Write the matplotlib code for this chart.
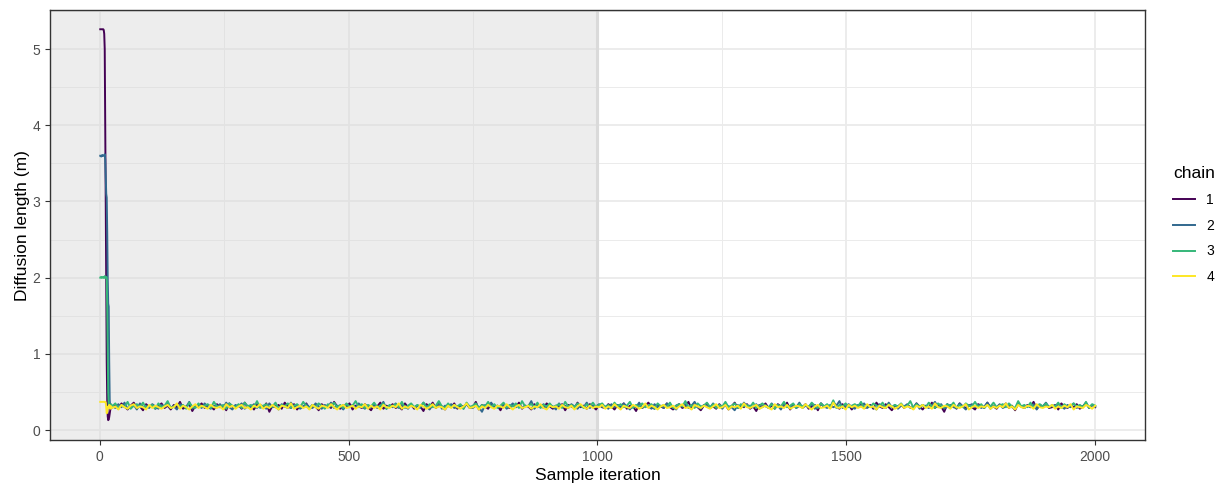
# ==========================================
# Trace plot: diffusion length, 4 MCMC chains
# ==========================================

import numpy as np
import matplotlib
matplotlib.use("Agg")
import matplotlib.pyplot as plt

plt.rcParams["font.family"] = ["Liberation Sans", "DejaVu Sans"]

# ==========================================
# Data
# ==========================================

chains = ["1", "2", "3", "4"]
colors = ["#440154", "#31688E", "#35B779", "#FDE725"]

# burn-in, iterations 1..24
head_1 = [5.26, 5.26, 5.26, 5.26, 5.26, 5.26, 5.26, 5.25, 5.20, 5.00, 4.10, 3.00,
          1.90, 0.90, 0.40, 0.18, 0.13, 0.14, 0.17, 0.22, 0.26, 0.29, 0.31, 0.30]
head_2 = [3.60, 3.60, 3.59, 3.60, 3.61, 3.60, 3.60, 3.60, 3.60, 3.62, 3.55, 3.30,
          3.10, 3.05, 2.60, 2.00, 1.66, 1.62, 0.90, 0.40, 0.30, 0.33, 0.31, 0.29]
head_3 = [2.00, 2.00, 2.01, 2.00, 2.00, 2.00, 2.01, 2.00, 2.00, 2.02, 2.00, 2.00,
          2.01, 2.00, 1.60, 1.00, 0.50, 0.32, 0.30, 0.33, 0.29, 0.31, 0.34, 0.30]
head_4 = [0.37, 0.37, 0.37, 0.37, 0.37, 0.37, 0.37, 0.37, 0.37, 0.37, 0.37, 0.36,
          0.30, 0.22, 0.24, 0.28, 0.31, 0.29, 0.33, 0.30, 0.32, 0.28, 0.31, 0.30]

# stationary part, iterations 25..2000 (thinned)
tail_1 = [0.30, 0.33, 0.28, 0.35, 0.31, 0.27, 0.32, 0.36, 0.29, 0.31, 0.26, 0.34, 0.30, 0.33, 0.28, 0.31,
          0.35, 0.29, 0.32, 0.27, 0.33, 0.30, 0.37, 0.28, 0.31, 0.34, 0.25, 0.32, 0.30, 0.35, 0.29, 0.33,
          0.31, 0.27, 0.34, 0.30, 0.32, 0.26, 0.35, 0.31, 0.29, 0.33, 0.28, 0.36, 0.30, 0.32, 0.27, 0.34,
          0.31, 0.29, 0.35, 0.24, 0.32, 0.30, 0.33, 0.28, 0.36, 0.31, 0.29, 0.34, 0.27, 0.32, 0.30, 0.35,
          0.28, 0.33, 0.31, 0.26, 0.34, 0.30, 0.32, 0.29, 0.37, 0.31, 0.28, 0.33, 0.30, 0.35, 0.27, 0.32,
          0.31, 0.29, 0.34, 0.30, 0.26, 0.33, 0.31, 0.36, 0.28, 0.32, 0.30, 0.34, 0.29, 0.31, 0.27, 0.35,
          0.30, 0.33, 0.28, 0.32, 0.31, 0.25, 0.34, 0.30, 0.36, 0.29, 0.32, 0.31, 0.27, 0.33, 0.30, 0.35,
          0.28, 0.32, 0.31, 0.34, 0.29, 0.30, 0.37, 0.27, 0.33, 0.31, 0.28, 0.35, 0.30, 0.32, 0.26, 0.34,
          0.31, 0.29, 0.33, 0.30, 0.36, 0.28, 0.32, 0.31, 0.27, 0.34, 0.30, 0.33, 0.29, 0.35, 0.31, 0.28,
          0.32, 0.30, 0.34, 0.26, 0.33, 0.31, 0.29, 0.36, 0.30, 0.32, 0.28, 0.34, 0.31, 0.27, 0.33, 0.30,
          0.29, 0.34, 0.31, 0.27, 0.33, 0.30, 0.35, 0.28, 0.32, 0.31, 0.25, 0.34, 0.29, 0.32, 0.36, 0.30,
          0.28, 0.33, 0.31, 0.29, 0.35, 0.30, 0.27, 0.32, 0.34, 0.29, 0.31, 0.37, 0.28, 0.33, 0.30, 0.26,
          0.32, 0.35, 0.29, 0.31, 0.28, 0.34, 0.30, 0.33, 0.27, 0.31, 0.36, 0.29, 0.32, 0.30, 0.34, 0.28,
          0.31, 0.25, 0.33, 0.30, 0.35, 0.29, 0.32, 0.28, 0.34, 0.31, 0.30, 0.36, 0.27, 0.33, 0.29, 0.32,
          0.30, 0.34, 0.28, 0.31, 0.33, 0.26, 0.35, 0.30, 0.32, 0.29, 0.37, 0.31, 0.28, 0.34, 0.30, 0.33,
          0.27, 0.32, 0.31, 0.35, 0.29, 0.30, 0.33, 0.28, 0.36, 0.31, 0.29, 0.34, 0.30, 0.26, 0.32, 0.31,
          0.34, 0.29, 0.33, 0.30, 0.28, 0.35, 0.31, 0.27, 0.32, 0.30, 0.36, 0.29, 0.33, 0.31, 0.24, 0.34,
          0.30, 0.32, 0.28, 0.35, 0.31, 0.29, 0.33, 0.30, 0.27, 0.34, 0.32, 0.29, 0.36, 0.30, 0.31, 0.28,
          0.33, 0.30, 0.35, 0.29, 0.32, 0.26, 0.34, 0.31, 0.29, 0.33, 0.30, 0.37, 0.28, 0.32, 0.31, 0.34,
          0.29, 0.30, 0.33, 0.27, 0.35, 0.31, 0.29, 0.32, 0.30, 0.34, 0.28, 0.31, 0.36, 0.29, 0.33, 0.30]
tail_2 = [0.32, 0.29, 0.34, 0.30, 0.36, 0.28, 0.31, 0.33, 0.27, 0.35, 0.30, 0.32, 0.29, 0.34, 0.31, 0.28,
          0.33, 0.30, 0.35, 0.29, 0.31, 0.27, 0.34, 0.32, 0.30, 0.37, 0.28, 0.31, 0.33, 0.29, 0.35, 0.30,
          0.28, 0.32, 0.31, 0.34, 0.29, 0.36, 0.30, 0.27, 0.33, 0.31, 0.35, 0.28, 0.32, 0.30, 0.34, 0.29,
          0.33, 0.31, 0.28, 0.35, 0.30, 0.32, 0.27, 0.34, 0.31, 0.29, 0.36, 0.30, 0.33, 0.28, 0.31, 0.34,
          0.30, 0.29, 0.35, 0.31, 0.28, 0.33, 0.30, 0.36, 0.29, 0.32, 0.31, 0.27, 0.34, 0.30, 0.33, 0.29,
          0.35, 0.31, 0.28, 0.32, 0.30, 0.34, 0.29, 0.31, 0.37, 0.28, 0.32, 0.30, 0.35, 0.29, 0.33, 0.31,
          0.28, 0.34, 0.30, 0.32, 0.29, 0.36, 0.31, 0.27, 0.33, 0.30, 0.35, 0.28, 0.32, 0.31, 0.34, 0.29,
          0.30, 0.33, 0.28, 0.35, 0.31, 0.29, 0.32, 0.30, 0.24, 0.33, 0.31, 0.36, 0.29, 0.32, 0.30, 0.34,
          0.28, 0.31, 0.35, 0.30, 0.33, 0.29, 0.32, 0.31, 0.38, 0.28, 0.33, 0.30, 0.34, 0.29, 0.32, 0.31,
          0.27, 0.35, 0.30, 0.32, 0.29, 0.34, 0.31, 0.28, 0.33, 0.30, 0.36, 0.29, 0.32, 0.31, 0.34, 0.30,
          0.31, 0.28, 0.34, 0.30, 0.33, 0.29, 0.35, 0.31, 0.27, 0.32, 0.30, 0.36, 0.29, 0.33, 0.31, 0.28,
          0.34, 0.30, 0.32, 0.29, 0.35, 0.31, 0.30, 0.27, 0.33, 0.31, 0.34, 0.29, 0.32, 0.37, 0.30, 0.28,
          0.33, 0.31, 0.29, 0.35, 0.30, 0.32, 0.28, 0.34, 0.31, 0.30, 0.26, 0.33, 0.29, 0.36, 0.31, 0.32,
          0.30, 0.34, 0.28, 0.31, 0.33, 0.29, 0.35, 0.30, 0.32, 0.27, 0.34, 0.31, 0.29, 0.33, 0.30, 0.36,
          0.29, 0.32, 0.31, 0.34, 0.28, 0.30, 0.35, 0.31, 0.29, 0.33, 0.30, 0.32, 0.38, 0.29, 0.31, 0.34,
          0.30, 0.28, 0.33, 0.31, 0.35, 0.29, 0.32, 0.30, 0.27, 0.34, 0.31, 0.29, 0.36, 0.30, 0.33, 0.28,
          0.32, 0.31, 0.34, 0.29, 0.30, 0.35, 0.28, 0.33, 0.31, 0.29, 0.32, 0.37, 0.30, 0.34, 0.28, 0.31,
          0.33, 0.30, 0.29, 0.35, 0.31, 0.27, 0.32, 0.34, 0.30, 0.33, 0.29, 0.31, 0.36, 0.28, 0.32, 0.30,
          0.34, 0.29, 0.31, 0.33, 0.30, 0.28, 0.35, 0.31, 0.29, 0.32, 0.30, 0.34, 0.27, 0.33, 0.31, 0.36,
          0.30, 0.32, 0.29, 0.34, 0.31, 0.28, 0.33, 0.30, 0.35, 0.29, 0.32, 0.31, 0.34, 0.30, 0.33, 0.31]
tail_3 = [0.31, 0.35, 0.29, 0.33, 0.30, 0.37, 0.28, 0.32, 0.34, 0.30, 0.36, 0.29, 0.31, 0.33, 0.28, 0.35,
          0.30, 0.32, 0.38, 0.29, 0.31, 0.34, 0.30, 0.33, 0.28, 0.36, 0.31, 0.29, 0.35, 0.30, 0.32, 0.34,
          0.29, 0.37, 0.31, 0.30, 0.33, 0.28, 0.35, 0.32, 0.30, 0.34, 0.29, 0.36, 0.31, 0.33, 0.30, 0.38,
          0.29, 0.32, 0.34, 0.30, 0.31, 0.36, 0.28, 0.33, 0.31, 0.35, 0.29, 0.32, 0.34, 0.30, 0.37, 0.31,
          0.29, 0.33, 0.30, 0.35, 0.32, 0.28, 0.34, 0.31, 0.36, 0.30, 0.33, 0.29, 0.35, 0.31, 0.32, 0.38,
          0.30, 0.34, 0.29, 0.33, 0.31, 0.36, 0.30, 0.32, 0.35, 0.28, 0.33, 0.31, 0.34, 0.30, 0.37, 0.29,
          0.32, 0.35, 0.30, 0.33, 0.31, 0.36, 0.29, 0.34, 0.30, 0.32, 0.38, 0.31, 0.29, 0.35, 0.30, 0.33,
          0.31, 0.34, 0.28, 0.36, 0.30, 0.32, 0.35, 0.29, 0.33, 0.31, 0.37, 0.30, 0.34, 0.29, 0.32, 0.36,
          0.30, 0.33, 0.31, 0.35, 0.29, 0.38, 0.31, 0.32, 0.34, 0.30, 0.36, 0.29, 0.33, 0.31, 0.35, 0.30,
          0.32, 0.34, 0.29, 0.37, 0.31, 0.33, 0.30, 0.35, 0.32, 0.29, 0.34, 0.31, 0.36, 0.30, 0.33, 0.35,
          0.30, 0.33, 0.29, 0.36, 0.31, 0.34, 0.30, 0.32, 0.37, 0.29, 0.33, 0.31, 0.35, 0.30, 0.32, 0.34,
          0.28, 0.35, 0.31, 0.33, 0.30, 0.36, 0.29, 0.32, 0.34, 0.31, 0.38, 0.30, 0.33, 0.29, 0.35, 0.31,
          0.32, 0.36, 0.30, 0.34, 0.29, 0.33, 0.31, 0.37, 0.30, 0.32, 0.35, 0.29, 0.34, 0.31, 0.33, 0.30,
          0.36, 0.29, 0.32, 0.35, 0.31, 0.30, 0.34, 0.28, 0.33, 0.31, 0.37, 0.30, 0.32, 0.35, 0.29, 0.34,
          0.31, 0.33, 0.30, 0.36, 0.32, 0.29, 0.35, 0.31, 0.34, 0.30, 0.39, 0.29, 0.33, 0.31, 0.35, 0.30,
          0.32, 0.34, 0.31, 0.37, 0.29, 0.33, 0.30, 0.35, 0.32, 0.31, 0.36, 0.29, 0.34, 0.30, 0.33, 0.31,
          0.35, 0.30, 0.32, 0.38, 0.29, 0.34, 0.31, 0.33, 0.30, 0.36, 0.31, 0.29, 0.35, 0.32, 0.30, 0.34,
          0.31, 0.36, 0.29, 0.33, 0.30, 0.35, 0.32, 0.31, 0.37, 0.30, 0.34, 0.29, 0.33, 0.31, 0.36, 0.30,
          0.32, 0.34, 0.30, 0.35, 0.31, 0.29, 0.38, 0.31, 0.33, 0.30, 0.36, 0.29, 0.32, 0.34, 0.31, 0.35,
          0.30, 0.33, 0.31, 0.36, 0.29, 0.34, 0.30, 0.32, 0.35, 0.31, 0.33, 0.30, 0.37, 0.29, 0.34, 0.32]
tail_4 = [0.29, 0.31, 0.27, 0.33, 0.30, 0.28, 0.32, 0.34, 0.29, 0.31, 0.30, 0.27, 0.33, 0.29, 0.32, 0.30,
          0.28, 0.31, 0.33, 0.29, 0.30, 0.35, 0.28, 0.32, 0.30, 0.27, 0.31, 0.34, 0.29, 0.32, 0.30, 0.28,
          0.33, 0.30, 0.29, 0.31, 0.27, 0.34, 0.30, 0.32, 0.28, 0.31, 0.33, 0.29, 0.30, 0.27, 0.32, 0.30,
          0.34, 0.28, 0.31, 0.29, 0.33, 0.30, 0.27, 0.32, 0.31, 0.29, 0.35, 0.28, 0.30, 0.32, 0.29, 0.31,
          0.27, 0.33, 0.30, 0.28, 0.32, 0.31, 0.29, 0.34, 0.30, 0.27, 0.31, 0.33, 0.29, 0.30, 0.32, 0.28,
          0.31, 0.30, 0.34, 0.28, 0.32, 0.29, 0.31, 0.27, 0.33, 0.30, 0.29, 0.32, 0.30, 0.35, 0.28, 0.31,
          0.29, 0.32, 0.30, 0.27, 0.33, 0.31, 0.28, 0.30, 0.34, 0.29, 0.31, 0.30, 0.27, 0.32, 0.29, 0.33,
          0.30, 0.28, 0.31, 0.35, 0.29, 0.30, 0.32, 0.27, 0.31, 0.29, 0.33, 0.30, 0.28, 0.32, 0.31, 0.29,
          0.34, 0.30, 0.27, 0.31, 0.33, 0.29, 0.30, 0.32, 0.28, 0.31, 0.30, 0.34, 0.29, 0.27, 0.32, 0.30,
          0.31, 0.28, 0.33, 0.30, 0.29, 0.32, 0.27, 0.31, 0.34, 0.30, 0.28, 0.32, 0.29, 0.31, 0.30, 0.33,
          0.28, 0.31, 0.29, 0.34, 0.30, 0.27, 0.32, 0.30, 0.29, 0.33, 0.31, 0.28, 0.30, 0.35, 0.29, 0.32,
          0.30, 0.27, 0.31, 0.33, 0.29, 0.30, 0.32, 0.28, 0.31, 0.34, 0.29, 0.30, 0.27, 0.33, 0.31, 0.29,
          0.32, 0.30, 0.28, 0.31, 0.34, 0.29, 0.30, 0.33, 0.27, 0.31, 0.30, 0.32, 0.28, 0.35, 0.30, 0.29,
          0.31, 0.33, 0.28, 0.30, 0.32, 0.29, 0.27, 0.34, 0.30, 0.31, 0.29, 0.33, 0.28, 0.30, 0.32, 0.31,
          0.29, 0.34, 0.30, 0.27, 0.31, 0.33, 0.29, 0.30, 0.32, 0.28, 0.36, 0.30, 0.29, 0.31, 0.27, 0.33,
          0.30, 0.32, 0.29, 0.31, 0.28, 0.34, 0.30, 0.31, 0.27, 0.32, 0.30, 0.29, 0.33, 0.31, 0.28, 0.30,
          0.34, 0.29, 0.31, 0.30, 0.27, 0.32, 0.30, 0.33, 0.29, 0.31, 0.28, 0.35, 0.30, 0.29, 0.32, 0.31,
          0.28, 0.33, 0.30, 0.29, 0.31, 0.34, 0.27, 0.30, 0.32, 0.29, 0.31, 0.30, 0.33, 0.28, 0.31, 0.29,
          0.32, 0.30, 0.35, 0.29, 0.31, 0.27, 0.33, 0.30, 0.29, 0.32, 0.31, 0.28, 0.34, 0.30, 0.29, 0.31,
          0.30, 0.33, 0.28, 0.31, 0.29, 0.32, 0.30, 0.34, 0.27, 0.31, 0.30, 0.29, 0.33, 0.31, 0.28, 0.32]

heads = [head_1, head_2, head_3, head_4]
tails = [tail_1, tail_2, tail_3, tail_4]

warmup_end = 1000
x_ticks = [0, 500, 1000, 1500, 2000]
y_ticks = [0, 1, 2, 3, 4, 5]

# ==========================================
# Plot
# ==========================================

fig = plt.figure(figsize=(12.28, 4.86), dpi=100)
ax = fig.add_axes([0.0407, 0.0947, 0.8917, 0.8843])

ax.set_xlim(-100, 2100)
ax.set_ylim(-0.13, 5.51)

# grid (theme_bw style)
for v in np.arange(0, 2001, 250):
    ax.axvline(v, color="#EBEBEB", lw=1.3 if v % 500 == 0 else 0.7, zorder=0)
for v in np.arange(0, 5.51, 0.5):
    ax.axhline(v, color="#EBEBEB", lw=1.3 if v % 1 == 0 else 0.7, zorder=0)

# warm-up shading
ax.axvspan(-100, warmup_end, color="#D9D9D9", alpha=0.45, lw=0, zorder=0.5)
ax.axvline(warmup_end, color="#DADADA", lw=2.2, zorder=0.6)

for name, col, h, t in zip(chains, colors, heads, tails):
    xs = np.concatenate([np.arange(1, len(h) + 1), np.linspace(25, 2000, len(t))])
    ys = np.concatenate([h, t])
    ax.plot(xs, ys, color=col, lw=1.4, label=name, zorder=2)

ax.set_xticks(x_ticks)
ax.set_yticks(y_ticks)
ax.tick_params(axis="both", direction="out", length=3.5, width=0.8,
               color="#333333", labelcolor="#4D4D4D", labelsize=10)
for s in ax.spines.values():
    s.set_color("#333333")
    s.set_linewidth(1.0)

ax.set_xlabel("Sample iteration", fontsize=12.5, labelpad=3)
ax.set_ylabel("Diffusion length (m)", fontsize=12.5, labelpad=2)

leg = ax.legend(title="chain", loc="center left", bbox_to_anchor=(1.014, 0.5),
                frameon=False, fontsize=10, title_fontsize=12.5,
                handlelength=1.6, handletextpad=0.8, labelspacing=0.85)
leg._legend_box.align = "left"

fig.savefig("out.png", dpi=100)
